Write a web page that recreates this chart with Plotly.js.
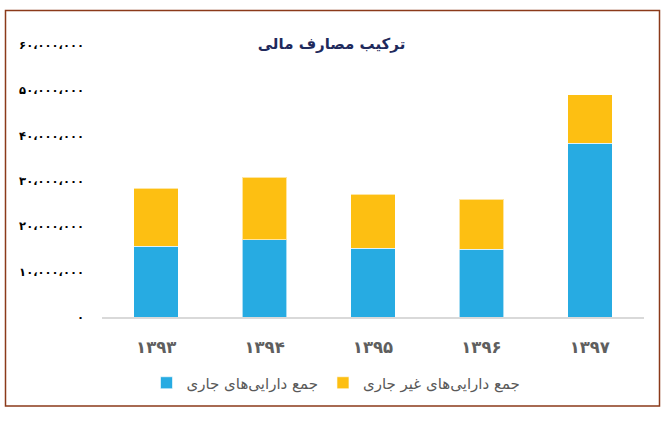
<!DOCTYPE html>
<html>
<head>
<meta charset="utf-8">
<script src="https://cdn.plot.ly/plotly-3.0.1.min.js"></script>
<style>
  body { margin: 0; background: #fff; }
  #chart { width: 663px; height: 421px; }
</style>
</head>
<body>
<div id="chart"></div>
<script>
// years (solar hijri) and values
var years = ['۱۳۹۳', '۱۳۹۴', '۱۳۹۵', '۱۳۹۶', '۱۳۹۷'];
var currentAssets = [15560000, 17030000, 15200000, 14900000, 38340000];     // blue
var nonCurrentAssets = [12870000, 13820000, 11900000, 11100000, 10650000];  // yellow

var tickValues = [0, 10000000, 20000000, 30000000, 40000000, 50000000, 60000000];
var tickLabels = ['۰', '۱۰،۰۰۰،۰۰۰', '۲۰،۰۰۰،۰۰۰', '۳۰،۰۰۰،۰۰۰', '۴۰،۰۰۰،۰۰۰', '۵۰،۰۰۰،۰۰۰', '۶۰،۰۰۰،۰۰۰'];

var data = [
  {
    x: years,
    y: currentAssets,
    name: 'جمع دارایی‌های جاری',
    type: 'bar',
    marker: {
      color: '#27abe2',
      line: {color: 'rgba(255,255,255,0.6)', width: 1}
    }
  },
  {
    x: years,
    y: nonCurrentAssets,
    name: 'جمع دارایی‌های غیر جاری',
    type: 'bar',
    marker: {
      color: '#fdbf12',
      line: {color: 'rgba(255,255,255,0.6)', width: 1}
    }
  }
];

var layout = {
  width: 663,
  height: 421,
  margin: {l: 102, r: 19, t: 45, b: 104},
  paper_bgcolor: '#fff',
  plot_bgcolor: '#fff',
  font: {family: 'DejaVu Sans', color: '#595959'},
  barmode: 'stack',
  bargap: 0.59,
  title: {
    text: '<b>ترکیب مصارف مالی</b>',
    font: {family: 'DejaVu Sans', size: 15, color: '#1f2a5c'},
    x: 0.5, xref: 'container', xanchor: 'center',
    y: 1 - 44 / 421, yref: 'container', yanchor: 'middle'
  },
  xaxis: {
    showgrid: false,
    showline: true,
    linecolor: '#d9d9d9',
    linewidth: 2,
    ticks: '',
    ticklabelstandoff: 14,
    tickfont: {size: 16.5, color: '#5f5f5f', weight: 'bold'}
  },
  yaxis: {
    range: [0, 60000000],
    showgrid: false,
    zeroline: false,
    showline: false,
    ticks: '',
    tickvals: tickValues,
    ticktext: tickLabels,
    ticklabelstandoff: 17,
    tickfont: {size: 11.5, color: '#000', weight: 'bold'}
  },
  showlegend: true,
  legend: {
    orientation: 'h',
    traceorder: 'normal',
    xref: 'container', x: 336 / 663, xanchor: 'center',
    yref: 'container', y: 1 - 383 / 421, yanchor: 'middle',
    font: {size: 15, color: '#595959'}
  },
  // brown frame round the whole chart
  shapes: [{
    type: 'rect',
    xref: 'paper', yref: 'paper',
    x0: (5.5 - 102) / 542, x1: (659.5 - 102) / 542,
    y0: (317 - 406) / 272, y1: (317 - 10.5) / 272,
    line: {color: '#8b3a1a', width: 1.5}
  }]
};

Plotly.newPlot('chart', data, layout, {staticPlot: true});
</script>
</body>
</html>
